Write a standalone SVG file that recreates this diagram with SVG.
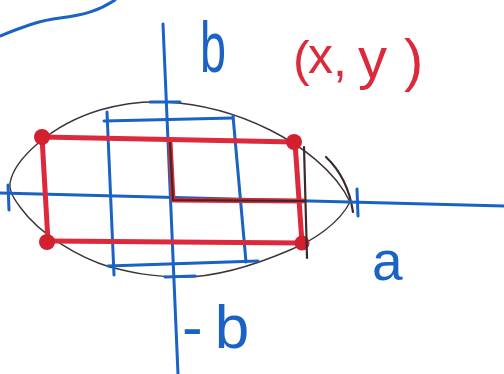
<svg xmlns="http://www.w3.org/2000/svg" width="504" height="374" viewBox="0 0 504 374">
<style>
.bl{stroke:#1a62c4;stroke-width:3;fill:none;stroke-linecap:round;stroke-linejoin:round}
.rd{stroke:#dc2a3c;stroke-width:5;fill:none;stroke-linecap:round;stroke-linejoin:round}
.dk{stroke:#3a2b2b;stroke-width:2.2;fill:none;stroke-linecap:round}
.el{stroke:#3e3434;stroke-width:1.4;fill:none}
.dot{fill:#d2202f}
.tb{fill:#1a62c4;font-family:"Liberation Sans",Arial,sans-serif}
.tr{fill:#dc2a3c;font-family:"Liberation Sans",Arial,sans-serif}
</style>
<rect width="504" height="374" fill="#ffffff"/>
<g id="scribble">
<path class="bl" d="M0,36 C20,28 40,20 60,18 C85,15 100,10 115,0"/>
</g>
<g id="ellipse">
<path class="el" d="M10,183 C14,160 50,125 100,110 C125,103 145,101 165,102 C205,104 240,115 270,130 C300,145 335,170 350,202 C340,222 315,240 290,250 C255,265 215,277 183,277 C150,277 130,272 110,267 C80,258 40,235 20,207 C12,196 9,190 10,183 Z"/>
<path class="dk" d="M326,157 Q348,178 353,212"/>
</g>
<g id="axes">
<path class="bl" d="M0,193 L504,206"/>
<path class="bl" d="M163,24 L178,374"/>
<path class="bl" d="M8,185 L9,210"/>
<path class="bl" d="M357,189 L358,216" stroke-width="4"/>
<path class="bl" d="M150,102 L180,102"/>
<path class="bl" d="M165,277 L195,276"/>
</g>
<g id="blue-rect">
<path class="bl" d="M104,121 L233,118"/>
<path class="bl" d="M107,112 L114,275"/>
<path class="bl" d="M233,116 L246,262"/>
<path class="bl" d="M108,266 L258,261"/>
</g>
<g id="red-rect">
<path class="rd" d="M42,137 L295,142"/>
<path class="rd" d="M42,137 L48,241"/>
<path class="rd" d="M48,241 L302,243"/>
<path class="rd" d="M295,142 L302,243"/>
<path class="rd" d="M170,142 L173,200 L303,201"/>
<circle class="dot" cx="42" cy="137" r="8"/>
<circle class="dot" cx="294" cy="142" r="8"/>
<circle class="dot" cx="47" cy="242" r="8"/>
<circle class="dot" cx="302" cy="243" r="7.5"/>
</g>
<g id="quadrant">
<path class="dk" d="M170,143 L173,200 L304,201"/>
<path class="dk" d="M304,147 L307,258"/>
</g>
<g id="labels">
<text class="tb" font-size="72" transform="translate(200,72) scale(0.65,1)">b</text>
<text class="tr" font-size="50"><tspan x="293" y="76">(</tspan><tspan x="308" y="73">x</tspan><tspan x="333" y="76">,</tspan><tspan x="358" y="78" font-size="58">y</tspan><tspan x="404" y="80" font-size="58">)</tspan></text>
<text class="tb" font-size="55" x="372" y="280">a</text>
<text class="tb" font-size="62" x="182" y="348" letter-spacing="12">-b</text>
</g>
</svg>
